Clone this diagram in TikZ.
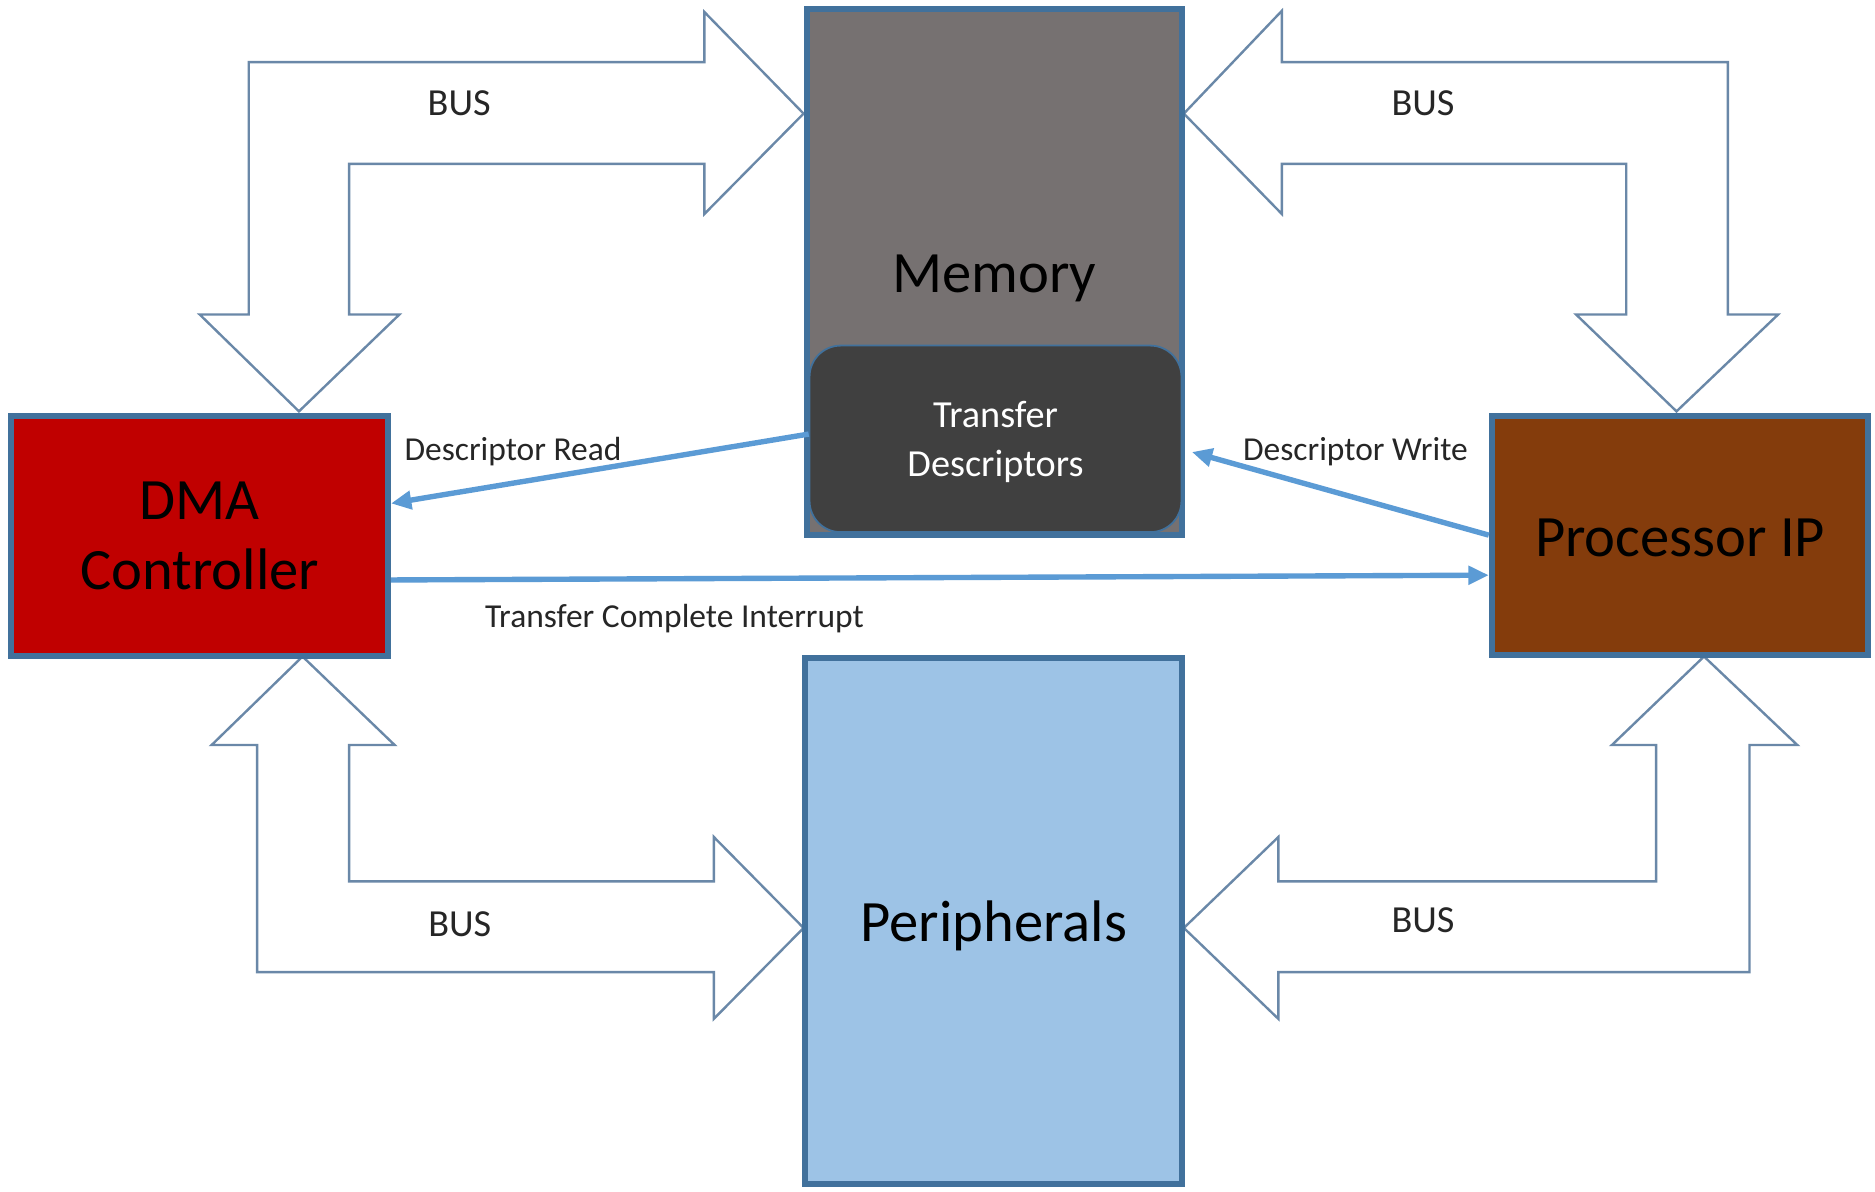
\documentclass[tikz,border=0pt]{standalone}
\usepackage{fontspec}
\setmainfont{Carlito}
\usetikzlibrary{arrows.meta}
\definecolor{bord}{HTML}{41719C}
\definecolor{busline}{HTML}{6A88A8}
\definecolor{connblue}{HTML}{5B9BD5}
\definecolor{dmared}{HTML}{C00000}
\definecolor{memgray}{HTML}{767171}
\definecolor{tdgray}{HTML}{404040}
\definecolor{procbrown}{HTML}{843C0C}
\definecolor{perblue}{HTML}{9DC3E6}
\definecolor{lbltext}{HTML}{262626}
\begin{document}
\begin{tikzpicture}[x=1pt,y=-1pt,
  block/.style={draw=bord,line width=5pt,inner sep=0pt,align=center,
    font=\fontsize{49}{59}\selectfont,text=black},
  bigtxt/.style={font=\fontsize{49}{59}\selectfont,text=black,inner sep=0pt},
  bus/.style={draw=busline,line width=2pt,fill=white,line join=miter},
  conn/.style={draw=connblue,line width=4.5pt,-{Triangle[length=17pt,width=15pt]}},
  lbl/.style={font=\fontsize{28}{34}\selectfont,text=lbltext,anchor=base,inner sep=0pt},
  buslbl/.style={font=\fontsize{32}{38}\selectfont,text=lbltext,anchor=base,inner sep=0pt}]
\useasboundingbox (0,0) rectangle (1568,996);
\fill[white] (0,0) rectangle (1568,996);

% bus arrows
\draw[bus] (250,344) -- (334,263) -- (292,263) -- (292,137) -- (589,137) -- (589,179)
  -- (672,95) -- (589,10) -- (589,52) -- (208,52) -- (208,263) -- (167,263) -- cycle;
\draw[bus] (1402,344) -- (1487,263) -- (1445,263) -- (1445,52) -- (1072,52) -- (1072,9)
  -- (990,95) -- (1072,179) -- (1072,137) -- (1360,137) -- (1360,263) -- (1318,263) -- cycle;
\draw[bus] (253,549) -- (330,623) -- (292,623) -- (292,737) -- (597,737) -- (597,700)
  -- (672,776) -- (597,852) -- (597,813) -- (215,813) -- (215,623) -- (177,623) -- cycle;
\draw[bus] (1425,549) -- (1503,623) -- (1463,623) -- (1463,813) -- (1069,813) -- (1069,852)
  -- (990,776) -- (1069,700) -- (1069,737) -- (1385,737) -- (1385,623) -- (1348,623) -- cycle;

% boxes
\node[block,fill=dmared,minimum width=315pt,minimum height=201pt] (dma) at (167,448) {DMA\\Controller};
\node[block,fill=memgray,minimum width=314pt,minimum height=440pt] (mem) at (831.5,227.5) {};
\node[bigtxt,anchor=base] (memtxt) at (831.5,245) {Memory};
\node[block,fill=procbrown,minimum width=315pt,minimum height=200pt] (proc) at (1405,447.5) {};
\node[bigtxt] (proctxt) at (1405,449.5) {Processor IP};
\node[block,fill=perblue,minimum width=315pt,minimum height=440pt] (per) at (831,770.5) {};
\node[bigtxt] (pertxt) at (831,774) {Peripherals};
\node[draw=bord,line width=1.5pt,fill=tdgray,rounded corners=26pt,minimum width=311pt,
  minimum height=156pt,inner sep=0pt] (td) at (832.5,367) {};
\node[align=center,text=white,inner sep=0pt,font=\fontsize{32}{41}\selectfont] (tdtxt)
  at (832.5,370) {Transfer\\Descriptors};

% connectors
\draw[conn] ([yshift=4pt]td.west) -- ([yshift=27pt]dma.east);
\draw[conn] (proc.west) -- ([xshift=8pt,yshift=-11pt]td.east);
\draw[conn] ([yshift=-37pt]dma.east) -- ([yshift=-33.5pt]proc.west);

% labels
\node[lbl] (lread) at (429,385) {Descriptor Read};
\node[lbl] (lwrite) at (1133.5,385) {Descriptor Write};
\node[lbl] (lint) at (564,525) {Transfer Complete Interrupt};
\node[buslbl] (b1) at (384,97) {BUS};
\node[buslbl] (b2) at (1190,97) {BUS};
\node[buslbl] (b3) at (384.5,783) {BUS};
\node[buslbl] (b4) at (1190,780) {BUS};
\end{tikzpicture}
\end{document}
